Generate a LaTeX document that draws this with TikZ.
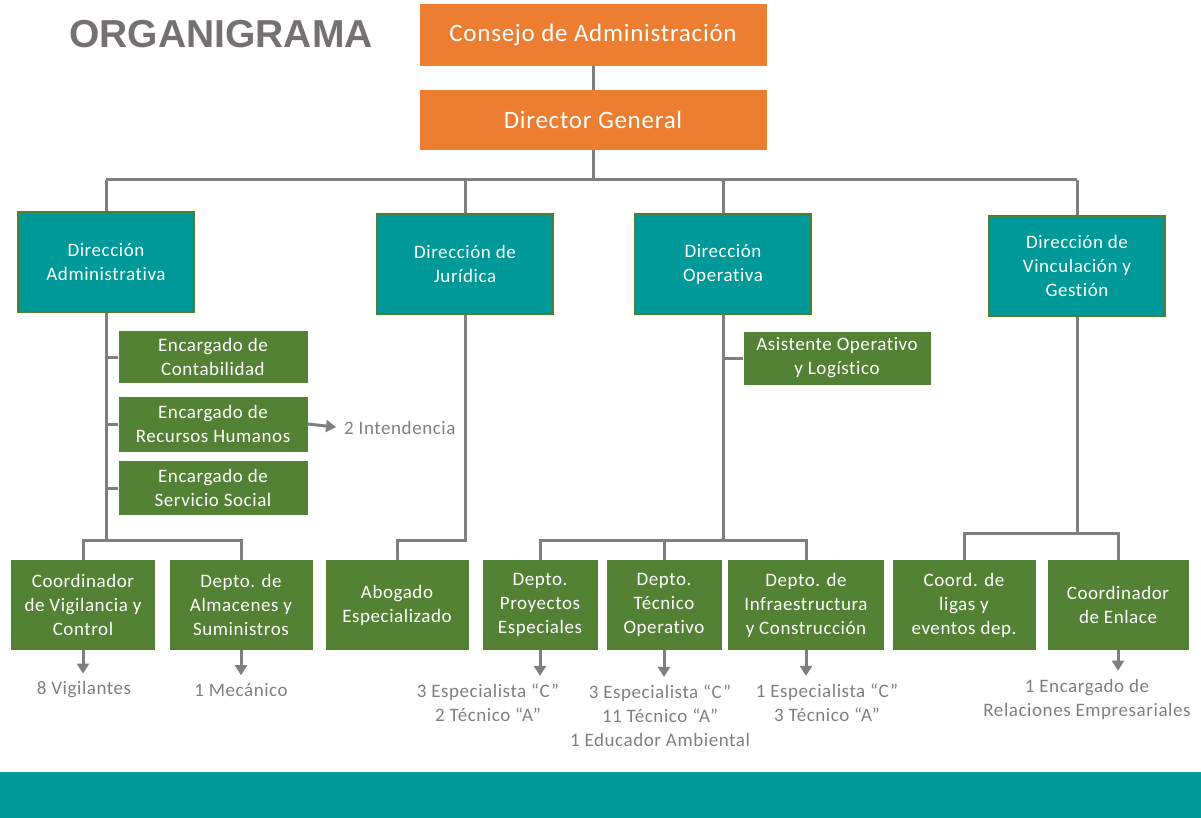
\documentclass[tikz,border=0pt]{standalone}
\usepackage{fontspec}
\setmainfont{Carlito}[LetterSpace=3, Ligatures=NoCommon]
\newfontfamily\titlefont{Liberation Sans}
\usetikzlibrary{arrows.meta}
\definecolor{naranja}{HTML}{ED7D31}
\definecolor{verde}{HTML}{548235}
\definecolor{verdeosc}{HTML}{507E32}
\definecolor{turquesa}{HTML}{009999}
\definecolor{gris}{HTML}{7F7F7F}
\definecolor{grisosc}{HTML}{767171}

\begin{document}
\begin{tikzpicture}[x=1pt,y=-1pt]
  \tikzstyle{every node}+=[inner sep=0pt, align=center, font=\fontsize{19}{24}\selectfont]
  \tikzstyle{jefe}=[fill=naranja, text=white, minimum width=347pt, font=\fontsize{25}{28}\selectfont]
  \tikzstyle{direccion}=[fill=turquesa, draw=verdeosc, line width=2.5pt, text=white, minimum width=176pt, minimum height=100pt]
  \tikzstyle{puesto}=[fill=verde, text=white, minimum height=90pt]
  \tikzstyle{nota}=[text=gris]
  \tikzstyle{conn}=[draw=gris, line width=3pt]
  \tikzstyle{flecha}=[conn, -{Triangle[length=10pt,width=12pt]}]
  \useasboundingbox (0,0) rectangle (1201,818);
  \fill [turquesa] (0,772) rectangle (1201,818);
  \node [text=grisosc, font=\titlefont\bfseries\fontsize{39}{40}\selectfont] (titulo) at (221,34) {ORGANIGRAMA};
  % mando superior
  \node [jefe, minimum height=62pt] (consejo) at (593,35) {Consejo de Administración};
  \node [jefe, minimum height=60pt] (dg) at (593,120) {Director General};
  % direcciones
  \node [direccion] (dadm) at (106,262) {Dirección\\Administrativa};
  \node [direccion] (djur) at (465,264) {Dirección de\\Jurídica};
  \node [direccion] (dop) at (723,264) {Dirección\\Operativa};
  \node [direccion] (dvin) at (1077,266) {Dirección de\\Vinculación y\\Gestión};
  % encargados
  \node [puesto, minimum width=189pt, minimum height=52pt] (cont) at (213,357) {Encargado de\\Contabilidad};
  \node [puesto, minimum width=189pt, minimum height=55pt] (rh) at (213,424) {Encargado de\\Recursos Humanos};
  \node [puesto, minimum width=189pt, minimum height=54pt] (serv) at (213,488) {Encargado de\\Servicio Social};
  \node [puesto, minimum width=187pt, minimum height=53pt] (asist) at (837,358) {Asistente Operativo\\y Logístico};
  \node [nota, anchor=west] (intend) at (344,428) {2 Intendencia};
  % departamentos
  \node [puesto, minimum width=144pt] (vig) at (83,605) {Coordinador\\de Vigilancia y\\Control};
  \node [puesto, minimum width=143pt] (alm) at (241,605) {Depto. de\\Almacenes y\\Suministros};
  \node [puesto, minimum width=143pt] (abog) at (397,605) {Abogado\\Especializado};
  \node [puesto, minimum width=115pt] (proy) at (540,605) {Depto.\\Proyectos\\Especiales};
  \node [puesto, minimum width=115pt] (tec) at (664,605) {Depto.\\Técnico\\Operativo};
  \node [puesto, minimum width=156pt] (infra) at (806,605) {Depto. de\\Infraestructura\\y Construcción};
  \node [puesto, minimum width=143pt] (ligas) at (964,605) {Coord. de\\ligas y\\eventos dep.};
  \node [puesto, minimum width=141pt] (enl) at (1118,605) {Coordinador\\de Enlace};
  % personal
  \node [nota] (nvig) at (84,690) {8 Vigilantes};
  \node [nota] (nalm) at (241,690) {1 Mecánico};
  \node [nota] (nproy) at (488,703) {3 Especialista “C”\\2 Técnico “A”};
  \node [nota] (ntec) at (660,716) {3 Especialista “C”\\11 Técnico “A”\\1 Educador Ambiental};
  \node [nota] (ninfra) at (827,703) {1 Especialista “C”\\3 Técnico “A”};
  \node [nota] (nenl) at (1087,699) {1 Encargado de\\Relaciones Empresariales};
  % lineas de mando
  \coordinate (b0) at (593,180);
  \coordinate (b1) at (0,540);
  \coordinate (b2) at (0,533);
  \draw [conn] (consejo) -- (dg);
  \draw [conn] (dg.south) -- (b0);
  \draw [conn] (dadm.north |- b0) -- (dvin.north |- b0);
  \foreach \n in {dadm,djur,dop,dvin}
    \draw [conn] (\n.north |- b0) -- (\n.north);
  \draw [conn] (dadm.south) -- (dadm.south |- b1);
  \foreach \n in {cont,rh,serv}
    \draw [conn] (\n.west) -- (\n.west -| dadm.south);
  \draw [conn] (vig.north) |- (alm.north |- b1) -- (alm.north);
  \draw [conn] (djur.south) |- (abog.north |- b1) -- (abog.north);
  \draw [conn] (dop.south) -- (dop.south |- b1);
  \draw [conn] (asist.west) -- (asist.west -| dop.south);
  \draw [conn] (proy.north) |- (infra.north |- b1) -- (infra.north);
  \draw [conn] (tec.north) -- (tec.north |- b1);
  \draw [conn] (dvin.south) -- (dvin.south |- b2);
  \draw [conn] (ligas.north) |- (enl.north |- b2) -- (enl.north);
  % flechas
  \draw [flecha, shorten >=8pt] (rh.east) -- (intend.west);
  \foreach \a/\b in {vig/nvig,alm/nalm,proy/nproy,tec/ntec,infra/ninfra,enl/nenl}
    \draw [flecha, shorten >=8pt] (\a.south) -- (\a.south |- \b.north);
\end{tikzpicture}
\end{document}
